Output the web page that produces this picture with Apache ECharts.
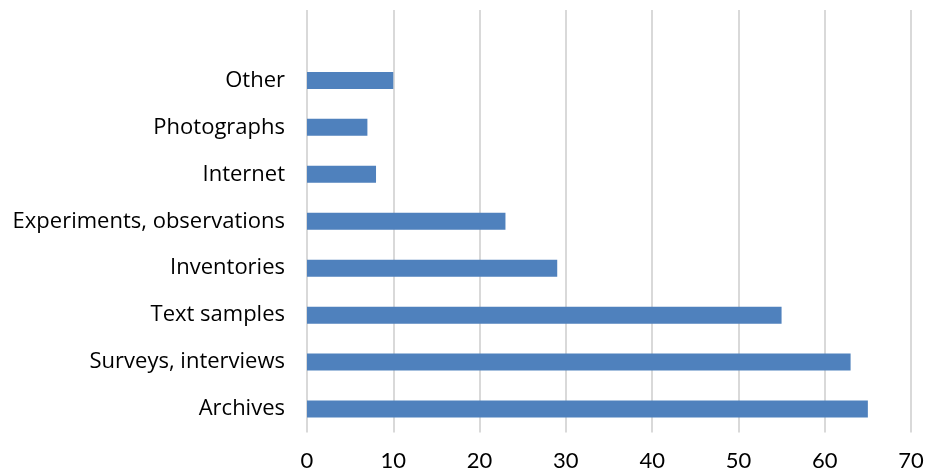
<!DOCTYPE html>
<html><head><meta charset="utf-8">
<script src="https://cdn.jsdelivr.net/npm/echarts@6/dist/echarts.min.js"></script>
<style>html,body{margin:0;padding:0;background:#fff}#c{width:927px;height:474px}</style>
</head><body><div id="c"></div>
<script>
const categories = ['Archives','Surveys, interviews','Text samples','Inventories','Experiments, observations','Internet','Photographs','Other',''];
const values = [65, 63, 55, 29, 23, 8, 7, 10, null];
const xTicks = {min: 0, max: 70, interval: 10};

const chart = echarts.init(document.getElementById('c'), null, {renderer: 'canvas'});
chart.setOption({
  animation: false,
  grid: {left: 307, right: 16, top: 10, bottom: 41.5, containLabel: false},
  xAxis: {
    type: 'value', min: xTicks.min, max: xTicks.max, interval: xTicks.interval,
    axisLine: {show: false}, axisTick: {show: false},
    splitLine: {show: true, lineStyle: {color: '#d9d9d9', width: 2}},
    axisLabel: {color: '#000', fontSize: 22, fontFamily: 'Lato', margin: 17}
  },
  yAxis: {
    type: 'category', data: categories,
    axisLine: {show: false}, axisTick: {show: false},
    axisLabel: {color: '#000', fontSize: 22, fontFamily: 'Open Sans', margin: 22, padding: [3, 0, 0, 0]}
  },
  series: [{
    type: 'bar', data: values, barWidth: 17,
    itemStyle: {color: '#4F81BD'}
  }]
});
</script></body></html>
